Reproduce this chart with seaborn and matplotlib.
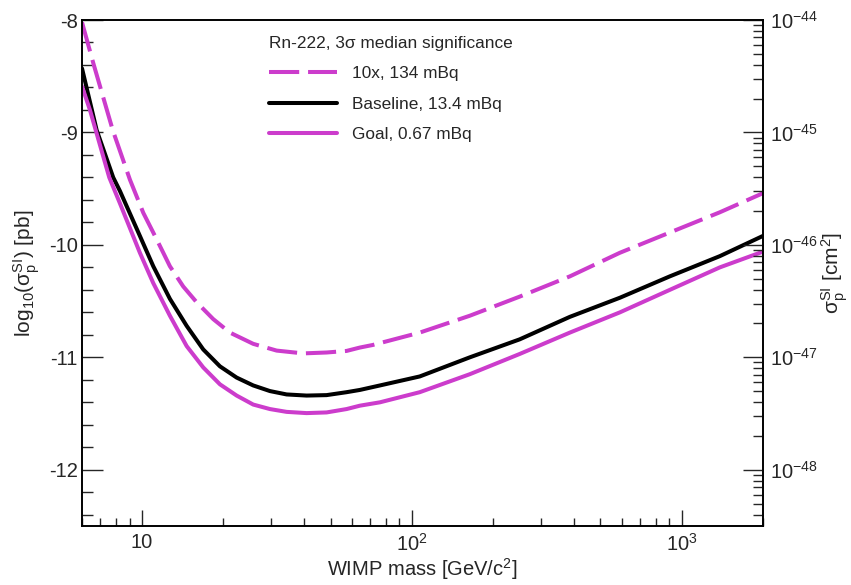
import matplotlib
matplotlib.use("Agg")
import matplotlib.pyplot as plt
import matplotlib.ticker as mticker
import seaborn as sns
import numpy as np

# WIMP mass [GeV/c^2] and log10(sigma_SI / pb)
mass_10x = [6, 6.6, 7.8, 9.03, 10.12, 11.34, 12.70, 14.23, 15.95, 18.38, 21.19,
            25.85, 31.56, 39.59, 48.34, 57.32, 64.2, 71.7, 107, 164, 251, 385,
            590, 903, 1384, 2000]
sens_10x = [-8.02, -8.38, -8.98, -9.42, -9.715, -9.95, -10.19, -10.37, -10.51,
            -10.66, -10.78, -10.88, -10.94, -10.965, -10.957, -10.943, -10.913,
            -10.89, -10.78, -10.63, -10.46, -10.28, -10.07, -9.89, -9.71, -9.54]

mass_base = [6, 6.8, 7.83, 8.29, 9.83, 11.02, 12.70, 14.65, 16.88, 19.46, 22.44,
             25.85, 29.81, 34.37, 40.75, 48.34, 57.32, 64.2, 76.2, 107, 164, 251,
             385, 590, 903, 1384, 2000]
sens_base = [-8.43, -8.98, -9.40, -9.52, -9.92, -10.19, -10.48, -10.72, -10.93,
             -11.08, -11.18, -11.25, -11.30, -11.33, -11.34, -11.336, -11.31,
             -11.29, -11.25, -11.17, -11.00, -10.84, -10.64, -10.47, -10.28,
             -10.10, -9.92]

mass_goal = [6, 6.42, 7.57, 8.29, 9.83, 11.02, 12.70, 14.65, 16.88, 19.46, 22.44,
             25.85, 29.81, 34.37, 40.75, 48.34, 57.32, 64.2, 76.2, 107, 164, 251,
             385, 590, 903, 1384, 2000]
sens_goal = [-8.59, -8.80, -9.40, -9.63, -10.07, -10.34, -10.63, -10.90, -11.09,
             -11.24, -11.34, -11.42, -11.46, -11.485, -11.496, -11.49, -11.46,
             -11.43, -11.40, -11.31, -11.15, -10.97, -10.78, -10.60, -10.40,
             -10.20, -10.06]

labels = ["10x, 134 mBq", "Baseline, 13.4 mBq", "Goal, 0.67 mBq"]
legend_title = "Rn-222, 3\u03c3 median significance"

magenta = "#cc3ccc"

sns.set_style("ticks")
plt.rcParams["font.family"] = ["Liberation Sans", "DejaVu Sans"]
plt.rcParams["mathtext.fontset"] = "custom"
plt.rcParams["mathtext.rm"] = "Liberation Sans"
plt.rcParams["mathtext.it"] = "Liberation Sans:italic"
plt.rcParams["mathtext.default"] = "regular"
plt.rcParams["axes.unicode_minus"] = False

fig = plt.figure(figsize=(8.51, 5.85), dpi=100)
W, H = 851, 585
ax = fig.add_axes([82 / W, 1 - 526 / H, (763 - 82) / W, (526 - 20) / H])

sns.lineplot(x=mass_10x, y=sens_10x, ax=ax, color=magenta, linewidth=2.9,
             linestyle=(0, (7.5, 2.2)), estimator=None, sort=False, label=labels[0])
sns.lineplot(x=mass_base, y=sens_base, ax=ax, color="black", linewidth=2.9,
             estimator=None, sort=False, label=labels[1])
sns.lineplot(x=mass_goal, y=sens_goal, ax=ax, color=magenta, linewidth=2.9,
             estimator=None, sort=False, label=labels[2])

ax.set_xscale("log")
ax.set_xlim(6, 2000)
ax.set_ylim(-12.5, -8)

# x axis
ax.xaxis.set_major_locator(mticker.FixedLocator([10, 100, 1000]))
ax.xaxis.set_major_formatter(mticker.FixedFormatter(["10", "$10^{2}$", "$10^{3}$"]))
ax.xaxis.set_minor_locator(mticker.LogLocator(base=10, subs=np.arange(2, 10)))
ax.xaxis.set_minor_formatter(mticker.NullFormatter())

# left y axis
ax.yaxis.set_major_locator(mticker.FixedLocator([-12, -11, -10, -9, -8]))
ax.yaxis.set_minor_locator(mticker.MultipleLocator(0.2))
ax.yaxis.set_major_formatter(mticker.FormatStrFormatter("%d"))

ax.tick_params(axis="x", which="major", direction="in", length=11.5, width=1,
               labelsize=14.5, pad=5)
ax.tick_params(axis="x", which="minor", direction="in", length=5.8, width=1)
ax.tick_params(axis="y", which="major", direction="in", length=15, width=1,
               labelsize=14.5, pad=3)
ax.tick_params(axis="y", which="minor", direction="in", length=8, width=1)
ax.tick_params(top=False, right=False, which="both")

for s in ax.spines.values():
    s.set_linewidth(1.2)
    s.set_color("black")

ax.set_xlabel("WIMP mass [GeV/c$^{2}$]", fontsize=14.5, labelpad=1)
ax.set_ylabel("log$_{10}$(\u03c3$_{p}^{SI}$) [pb]", fontsize=15, labelpad=5)

# right axis in cm^2 (1 pb = 1e-36 cm^2)
ax2 = ax.twinx()
ax2.set_yscale("log")
ax2.set_ylim(10 ** (-12.5 - 36), 10 ** (-8 - 36))
ax2.yaxis.set_major_locator(mticker.FixedLocator([1e-48, 1e-47, 1e-46, 1e-45, 1e-44]))
ax2.yaxis.set_major_formatter(mticker.FixedFormatter(
    ["$10^{-48}$", "$10^{-47}$", "$10^{-46}$", "$10^{-45}$", "$10^{-44}$"]))
minor_cm = [k * 10.0 ** e for e in range(-49, -44) for k in range(2, 10)
            if 10 ** (-48.5) <= k * 10.0 ** e <= 1e-44]
ax2.yaxis.set_minor_locator(mticker.FixedLocator(minor_cm))
ax2.yaxis.set_minor_formatter(mticker.NullFormatter())
ax2.tick_params(axis="y", which="major", direction="in", length=14.4, width=1,
                labelsize=14.5, pad=5)
ax2.tick_params(axis="y", which="minor", direction="in", length=7.2, width=1)
ax2.set_ylabel("\u03c3$_{p}^{SI}$ [cm$^{2}$]", fontsize=15, labelpad=1)
for s in ax2.spines.values():
    s.set_linewidth(1.2)
    s.set_color("black")

leg = ax.legend(title=legend_title, frameon=False, loc="upper left",
                bbox_to_anchor=(0.262, 0.986), fontsize=12.4, title_fontsize=12.4,
                handlelength=3.95, handletextpad=0.87, labelspacing=0.9,
                borderpad=0, alignment="left")

fig.savefig("out.png", dpi=100)
